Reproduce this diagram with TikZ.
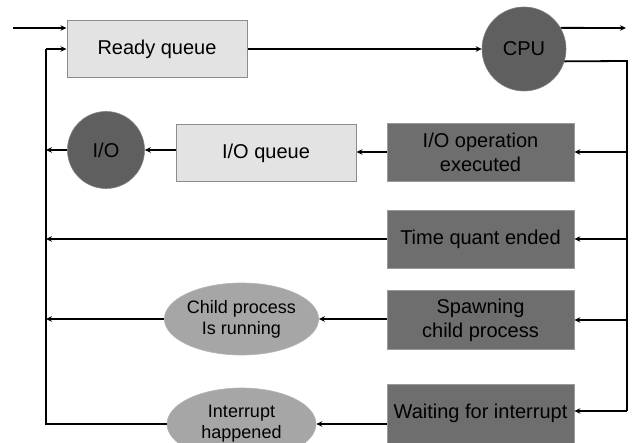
\documentclass[tikz,border=0pt]{standalone}
\usepackage{fontspec}
\setmainfont{Liberation Sans}
\usetikzlibrary{arrows.meta,shapes.geometric}

\definecolor{lightbox}{HTML}{E3E3E3}
\definecolor{lightedge}{HTML}{8C8C8C}
\definecolor{darkbox}{HTML}{6E6E6E}
\definecolor{darkedge}{HTML}{9A9A9A}
\definecolor{darkdisc}{HTML}{5F5F5F}
\definecolor{midoval}{HTML}{A6A6A6}

\tikzset{
  queuebox/.style={draw=lightedge, line width=1pt, fill=lightbox, rectangle,
    minimum width=180pt, minimum height=57pt, inner sep=0pt,
    font=\fontsize{20}{24}\selectfont},
  eventbox/.style={draw=darkedge, line width=0.8pt, fill=darkbox, rectangle,
    minimum width=187pt, minimum height=58pt, inner sep=0pt, align=center,
    font=\fontsize{20}{24}\selectfont},
  unitdisc/.style={circle, fill=darkdisc, draw=darkdisc!80!white, line width=0.6pt,
    inner sep=0pt, font=\fontsize{20}{24}\selectfont},
  stateoval/.style={ellipse, fill=midoval, draw=midoval!85!white, line width=0.6pt,
    minimum width=149pt, minimum height=72pt, inner sep=0pt, align=center,
    font=\fontsize{18}{21}\selectfont},
  flow/.style={line width=1.8pt, -{Stealth[length=6pt,width=5.5pt]}},
  wire/.style={line width=1.8pt},
}

\begin{document}
\begin{tikzpicture}[x=1pt,y=-1pt]
  \useasboundingbox (0,0) rectangle (635,443);

  % main path: ready queue to processor
  \node[queuebox] (ready) at (157,49) {Ready queue};
  \node[unitdisc, minimum size=84pt] (cpu) at (524,49) {CPU};

  % I/O branch
  \node[eventbox] (ioop) at (480.5,152) {I/O operation\\executed};
  \node[queuebox] (ioq) at (266,153.5) {I/O queue};
  \node[unitdisc, minimum size=77pt] (io) at (106,150) {I/O};

  % other events leaving the processor
  \node[eventbox] (tq) at (480.5,239) {Time quant ended};
  \node[eventbox, minimum height=59pt] (spawn) at (480.5,320) {Spawning\\child process};
  \node[stateoval] (child) at (241.5,319) {Child process\\Is running};
  \node[eventbox, minimum height=59pt] (wait) at (480.5,413.5) {Waiting for interrupt};
  \node[stateoval] (intr) at (241.5,424) {Interrupt\\happened};

  % helper points
  \coordinate (inStart) at (13,28);
  \coordinate (outEnd) at (626,28);
  \coordinate (busTop) at (627,61);
  \coordinate (busBot) at (627,411);
  \coordinate (leftTop) at (46,49);

  % entry and exit
  \draw[flow] (inStart) -- (inStart -| ready.west);
  \draw[flow] (ready.east) -- (cpu.west);
  \draw[flow] (cpu.30) -- (outEnd);

  % bus on the right carrying processes from the CPU
  \draw[wire] (cpu.-17) -- (busTop) -- (busBot);
  \draw[flow] (busTop |- ioop.east) -- (ioop.east);
  \draw[flow] (busTop |- tq.east) -- (tq.east);
  \draw[flow] (busTop |- spawn.east) -- (spawn.east);
  \draw[flow] (busBot) -- (busBot -| wait.east);

  % leftward flows
  \draw[flow] (ioop.west) -- (ioop.west -| ioq.east);
  \draw[flow] (ioq.west |- io.east) -- (io.east);
  \draw[flow] (io.west) -- (leftTop |- io.west);
  \draw[flow] (tq.west) -- (leftTop |- tq.west);
  \draw[flow] (spawn.west |- child.east) -- (child.east);
  \draw[flow] (child.west) -- (leftTop |- child.west);
  \draw[flow] (wait.west |- intr.east) -- (intr.east);

  % return line back to the ready queue
  \draw[wire] (intr.west) -- (leftTop |- intr.west) -- (leftTop);
  \draw[flow] (leftTop) -- (ready.west);
\end{tikzpicture}
\end{document}
